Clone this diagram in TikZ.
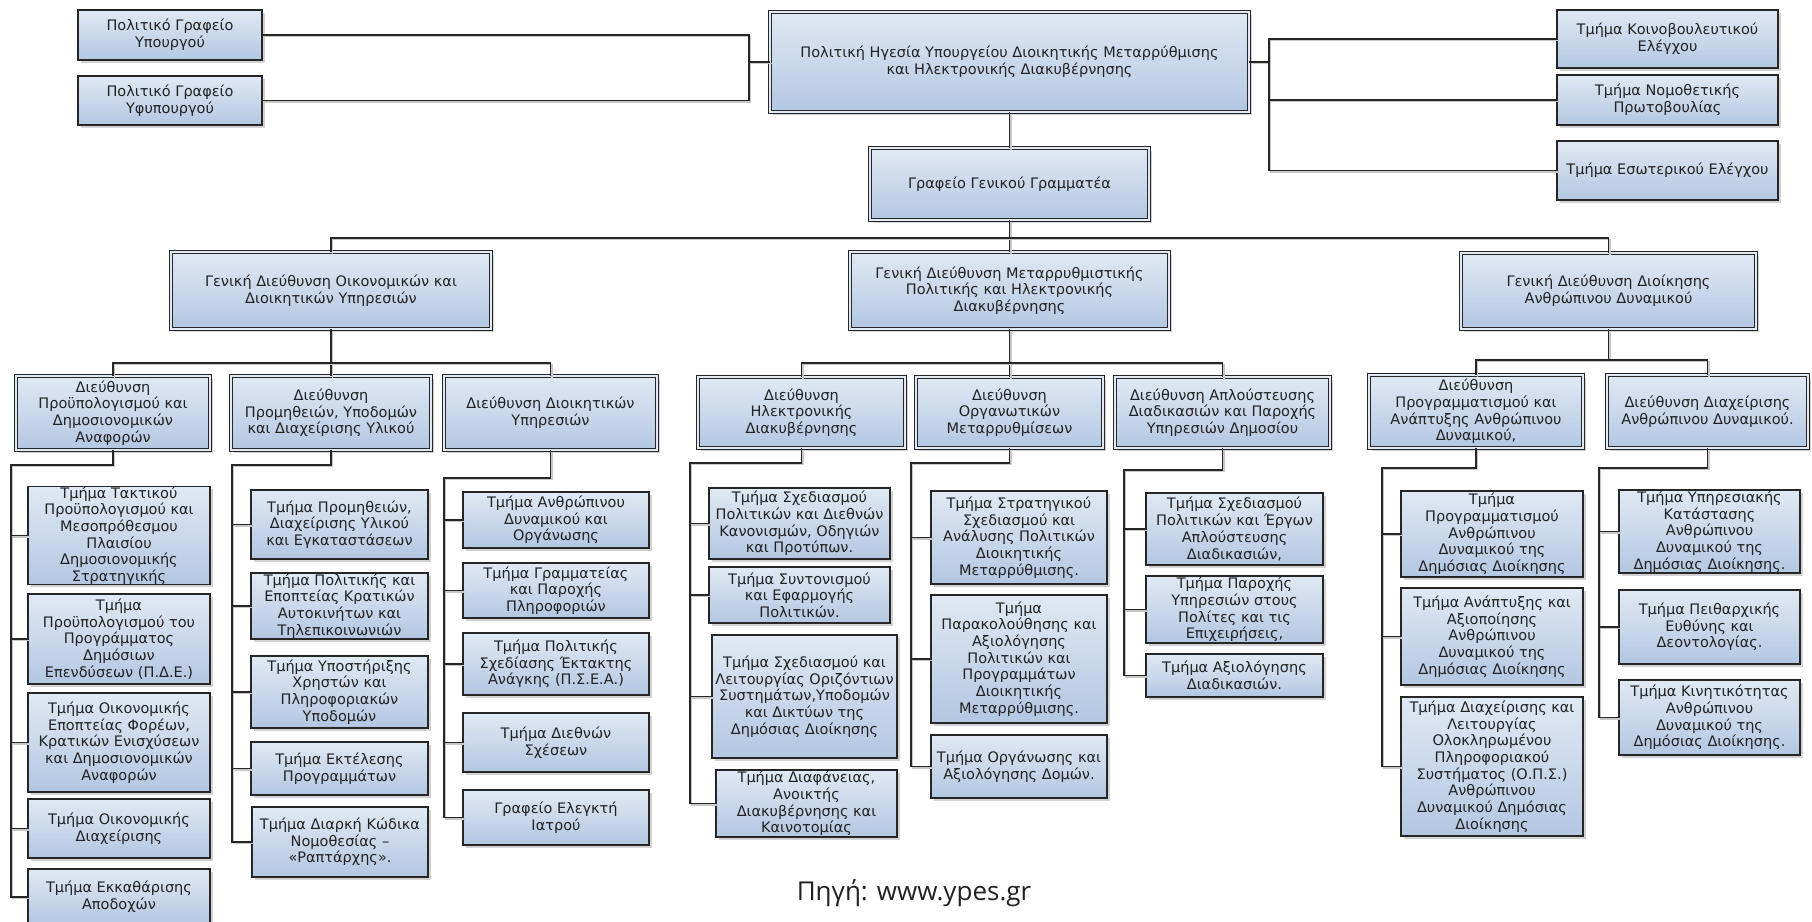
\documentclass[tikz,border=0pt]{standalone}
\usepackage{fontspec}
\setmainfont{DejaVu Sans}
\newfontfamily\srcfont{Open Sans}
\usetikzlibrary{shadows}
\definecolor{boxtop}{HTML}{E0E9F4}
\definecolor{boxbot}{HTML}{B3C7E2}
\definecolor{edge}{HTML}{262626}
\definecolor{txt}{HTML}{222222}
\tikzset{
  leaf/.style={draw=edge, line width=1.1pt, top color=boxtop, bottom color=boxbot,
    drop shadow={shadow xshift=2.5pt, shadow yshift=-2.5pt, fill=black!35},
    align=center, inner sep=0pt, outer sep=0pt, text=txt,
    font={\fontsize{14.5}{16.7}\selectfont}},
  dbl/.style={leaf, line width=1pt, double=boxtop, double distance=2pt},
  conn/.style={draw=edge, line width=1.3pt,
    preaction={draw=black!22, line width=1.3pt, transform canvas={xshift=1.5pt, yshift=-1.5pt}}},
}
\newcommand\bx[7]{\node[#1, minimum width={#5-#3}, minimum height={#6-#4}] (#2) at ({(#3+#5)/2},{(#4+#6)/2}) {#7};}
\begin{document}
\begin{tikzpicture}[x=1pt, y=-1pt]
\fill[white] (0,0) rectangle (1812,921);
\useasboundingbox (0,0) rectangle (1812,921);
% top level
\bx{leaf}{pgy}{78}{10}{262}{60}{Πολιτικό Γραφείο\\Υπουργού}
\bx{leaf}{pgyf}{78}{76}{262}{125}{Πολιτικό Γραφείο\\Υφυπουργού}
\bx{dbl}{top}{770}{12}{1249}{112}{Πολιτική Ηγεσία Υπουργείου Διοικητικής Μεταρρύθμισης\\και Ηλεκτρονικής Διακυβέρνησης}
\bx{leaf}{rb1}{1557}{10}{1778}{68}{Τμήμα Κοινοβουλευτικού\\Ελέγχου}
\bx{leaf}{rb2}{1557}{75}{1778}{125}{Τμήμα Νομοθετικής\\Πρωτοβουλίας}
\bx{leaf}{rb3}{1557}{141}{1778}{200}{Τμήμα Εσωτερικού Ελέγχου}
\bx{dbl}{gg}{870}{148}{1149}{220}{Γραφείο Γενικού Γραμματέα}
% general directorates
\bx{dbl}{gd1}{171}{252}{491}{329}{Γενική Διεύθυνση Οικονομικών και\\Διοικητικών Υπηρεσιών}
\bx{dbl}{gd2}{850}{252}{1169}{329}{Γενική Διεύθυνση Μεταρρυθμιστικής\\Πολιτικής και Ηλεκτρονικής\\Διακυβέρνησης}
\bx{dbl}{gd3}{1461}{253}{1756}{329}{Γενική Διεύθυνση Διοίκησης\\Ανθρώπινου Δυναμικού}
% directorates
\bx{dbl}{d1}{16}{376}{210}{450}{Διεύθυνση\\Προϋπολογισμού και\\Δημοσιονομικών\\Αναφορών}
\bx{dbl}{d2}{231}{376}{431}{450}{Διεύθυνση\\Προμηθειών, Υποδομών\\και Διαχείρισης Υλικού}
\bx{dbl}{d3}{444}{376}{657}{450}{Διεύθυνση Διοικητικών\\Υπηρεσιών}
\bx{dbl}{d4}{698}{377}{905}{448}{Διεύθυνση\\Ηλεκτρονικής\\Διακυβέρνησης}
\bx{dbl}{d5}{916}{377}{1103}{448}{Διεύθυνση\\Οργανωτικών\\Μεταρρυθμίσεων}
\bx{dbl}{d6}{1115}{377}{1330}{448}{Διεύθυνση Απλούστευσης\\Διαδικασιών και Παροχής\\Υπηρεσιών Δημοσίου}
\bx{dbl}{d7}{1369}{375}{1583}{448}{Διεύθυνση\\Προγραμματισμού και\\Ανάπτυξης Ανθρώπινου\\Δυναμικού,}
\bx{dbl}{d8}{1607}{375}{1808}{448}{Διεύθυνση Διαχείρισης\\Ανθρώπινου Δυναμικού.}
% column 1
\bx{leaf}{t1}{28}{488}{210}{583}{Τμήμα Τακτικού\\Προϋπολογισμού και\\Μεσοπρόθεσμου\\Πλαισίου\\Δημοσιονομικής\\Στρατηγικής}
\bx{leaf}{t2}{28}{594}{210}{684}{Τμήμα\\Προϋπολογισμού του\\Προγράμματος\\Δημόσιων\\Επενδύσεων (Π.Δ.Ε.)}
\bx{leaf}{t3}{28}{693}{210}{792}{Τμήμα Οικονομικής\\Εποπτείας Φορέων,\\Κρατικών Ενισχύσεων\\και Δημοσιονομικών\\Αναφορών}
\bx{leaf}{t4}{28}{799}{210}{858}{Τμήμα Οικονομικής\\Διαχείρισης}
\bx{leaf}{t5}{28}{869}{210}{925}{Τμήμα Εκκαθάρισης\\Αποδοχών}
% column 2
\bx{leaf}{c2a}{251}{490}{428}{559}{Τμήμα Προμηθειών,\\Διαχείρισης Υλικού\\και Εγκαταστάσεων}
\bx{leaf}{c2b}{251}{573}{428}{639}{Τμήμα Πολιτικής και\\Εποπτείας Κρατικών\\Αυτοκινήτων και\\Τηλεπικοινωνιών}
\bx{leaf}{c2c}{251}{656}{428}{728}{Τμήμα Υποστήριξης\\Χρηστών και\\Πληροφοριακών\\Υποδομών}
\bx{leaf}{c2d}{251}{742}{428}{795}{Τμήμα Εκτέλεσης\\Προγραμμάτων}
\bx{leaf}{c2e}{252}{807}{428}{877}{Τμήμα Διαρκή Κώδικα\\Νομοθεσίας –\\«Ραπτάρχης».}
% column 3
\bx{leaf}{c3a}{463}{492}{649}{548}{Τμήμα Ανθρώπινου\\Δυναμικού και\\Οργάνωσης}
\bx{leaf}{c3b}{463}{563}{649}{618}{Τμήμα Γραμματείας\\και Παροχής\\Πληροφοριών}
\bx{leaf}{c3c}{463}{633}{649}{695}{Τμήμα Πολιτικής\\Σχεδίασης Έκτακτης\\Ανάγκης (Π.Σ.Ε.Α.)}
\bx{leaf}{c3d}{463}{713}{649}{772}{Τμήμα Διεθνών\\Σχέσεων}
\bx{leaf}{c3e}{463}{790}{649}{845}{Γραφείο Ελεγκτή\\Ιατρού}
% column 4
\bx{leaf}{c4a}{709}{488}{890}{559}{Τμήμα Σχεδιασμού\\Πολιτικών και Διεθνών\\Κανονισμών, Οδηγιών\\και Προτύπων.}
\bx{leaf}{c4b}{709}{567}{890}{623}{Τμήμα Συντονισμού\\και Εφαρμογής\\Πολιτικών.}
\bx{leaf}{c4c}{712}{635}{897}{758}{Τμήμα Σχεδιασμού και\\Λειτουργίας Οριζόντιων\\Συστημάτων,Υποδομών\\και Δικτύων της\\Δημόσιας Διοίκησης}
\bx{leaf}{c4d}{716}{770}{897}{837}{Τμήμα Διαφάνειας,\\Ανοικτής\\Διακυβέρνησης και\\Καινοτομίας}
% column 5
\bx{leaf}{c5a}{931}{491}{1107}{584}{Τμήμα Στρατηγικού\\Σχεδιασμού και\\Ανάλυσης Πολιτικών\\Διοικητικής\\Μεταρρύθμισης.}
\bx{leaf}{c5b}{931}{595}{1107}{723}{Τμήμα\\Παρακολούθησης και\\Αξιολόγησης\\Πολιτικών και\\Προγραμμάτων\\Διοικητικής\\Μεταρρύθμισης.}
\bx{leaf}{c5c}{931}{735}{1107}{798}{Τμήμα Οργάνωσης και\\Αξιολόγησης Δομών.}
% column 6
\bx{leaf}{c6a}{1146}{493}{1323}{565}{Τμήμα Σχεδιασμού\\Πολιτικών και Έργων\\Απλούστευσης\\Διαδικασιών,}
\bx{leaf}{c6b}{1146}{576}{1323}{643}{Τμήμα Παροχής\\Υπηρεσιών στους\\Πολίτες και τις\\Επιχειρήσεις,}
\bx{leaf}{c6c}{1146}{654}{1323}{697}{Τμήμα Αξιολόγησης\\Διαδικασιών.}
% column 7
\bx{leaf}{c7a}{1401}{491}{1583}{577}{Τμήμα\\Προγραμματισμού\\Ανθρώπινου\\Δυναμικού της\\Δημόσιας Διοίκησης}
\bx{leaf}{c7b}{1401}{588}{1583}{685}{Τμήμα Ανάπτυξης και\\Αξιοποίησης\\Ανθρώπινου\\Δυναμικού της\\Δημόσιας Διοίκησης}
\bx{leaf}{c7c}{1401}{697}{1583}{836}{Τμήμα Διαχείρισης και\\Λειτουργίας\\Ολοκληρωμένου\\Πληροφοριακού\\Συστήματος (Ο.Π.Σ.)\\Ανθρώπινου\\Δυναμικού Δημόσιας\\Διοίκησης}
% column 8
\bx{leaf}{c8a}{1619}{490}{1800}{573}{Τμήμα Υπηρεσιακής\\Κατάστασης\\Ανθρώπινου\\Δυναμικού της\\Δημόσιας Διοίκησης.}
\bx{leaf}{c8b}{1619}{590}{1800}{664}{Τμήμα Πειθαρχικής\\Ευθύνης και\\Δεοντολογίας.}
\bx{leaf}{c8c}{1619}{680}{1800}{755}{Τμήμα Κινητικότητας\\Ανθρώπινου\\Δυναμικού της\\Δημόσιας Διοίκησης.}
% source
\node[anchor=base, font={\srcfont\fontsize{26}{30}\selectfont}, text=txt, inner sep=0pt] (src) at (914,900) {Πηγή: www.ypes.gr};
% connectors: top
\coordinate (jl) at (749,62);
\coordinate (jr) at (1269,62);
\draw[conn] (pgy.east) -| (jl);
\draw[conn] (pgyf.east) -| (jl);
\draw[conn] (jl) -- (top.west);
\draw[conn] (top.east) -- (jr);
\draw[conn] (rb1.west) -| (jr |- rb3.west) -- (rb3.west);
\draw[conn] (rb2.west) -- (rb2.west -| jr);
\draw[conn] (top.south) -- (gg.north);
% bus to general directorates
\coordinate (bus0) at (0,238);
\draw[conn] (gg.south) -- (gd2.north);
\draw[conn] (gd1.north) |- (bus0 -| gd3.north) -- (gd3.north);
% buses to directorates
\coordinate (bus1) at (0,363);
\coordinate (bus2) at (0,360);
\draw[conn] (gd1.south) -- (d2.north);
\draw[conn] (d1.north) |- (bus1 -| d3.north) -- (d3.north);
\draw[conn] (gd2.south) -- (d5.north);
\draw[conn] (d4.north) |- (bus1 -| d6.north) -- (d6.north);
\draw[conn] (gd3.south) -- (gd3.south |- bus2);
\draw[conn] (d7.north) |- (bus2 -| d8.north) -- (d8.north);
% columns
\coordinate (k1) at (11,465);
\coordinate (k2) at (232,465);
\coordinate (k3) at (444,478);
\coordinate (k4) at (690,463);
\coordinate (k5) at (911,463);
\coordinate (k6) at (1124,470);
\coordinate (k7) at (1382,468);
\coordinate (k8) at (1599,468);
\draw[conn] (d1.south) |- (k1) |- (t5.west);
\foreach \n in {t1,t2,t3,t4} \draw[conn] (\n.west) -- (\n.west -| k1);
\draw[conn] (d2.south) |- (k2) |- (c2e.west);
\foreach \n in {c2a,c2b,c2c,c2d} \draw[conn] (\n.west) -- (\n.west -| k2);
\draw[conn] (d3.south) |- (k3) |- (c3e.west);
\foreach \n in {c3a,c3b,c3c,c3d} \draw[conn] (\n.west) -- (\n.west -| k3);
\draw[conn] (d4.south) |- (k4) |- (c4d.west);
\foreach \n in {c4a,c4b,c4c} \draw[conn] (\n.west) -- (\n.west -| k4);
\draw[conn] (d5.south) |- (k5) |- (c5c.west);
\foreach \n in {c5a,c5b} \draw[conn] (\n.west) -- (\n.west -| k5);
\draw[conn] (d6.south) |- (k6) |- (c6c.west);
\foreach \n in {c6a,c6b} \draw[conn] (\n.west) -- (\n.west -| k6);
\draw[conn] (d7.south) |- (k7) |- (c7c.west);
\foreach \n in {c7a,c7b} \draw[conn] (\n.west) -- (\n.west -| k7);
\draw[conn] (d8.south) |- (k8) |- (c8c.west);
\foreach \n in {c8a,c8b} \draw[conn] (\n.west) -- (\n.west -| k8);
\end{tikzpicture}
\end{document}
